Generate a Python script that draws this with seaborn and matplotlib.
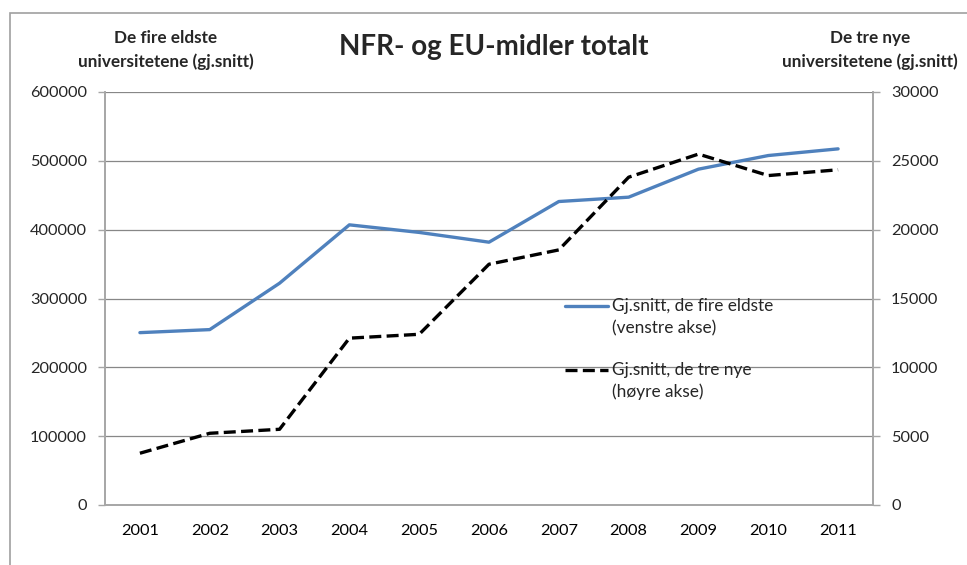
import numpy as np
import pandas as pd
import matplotlib
matplotlib.use("Agg")
import matplotlib.pyplot as plt
import seaborn as sns

# data
years = [2001, 2002, 2003, 2004, 2005, 2006, 2007, 2008, 2009, 2010, 2011]
fire_eldste = [250400, 254800, 322200, 407000, 396000, 381800, 440900, 447200, 487900, 507700, 517400]
tre_nye = [3760, 5210, 5500, 12120, 12400, 17490, 18530, 23810, 25490, 23930, 24350]

left_ticks = [0, 100000, 200000, 300000, 400000, 500000, 600000]
right_ticks = [0, 5000, 10000, 15000, 20000, 25000, 30000]

df = pd.DataFrame({"year": years, "eldste": fire_eldste, "nye": tre_nye})

sns.set_style("white")
plt.rcParams["font.family"] = ["Lato", "DejaVu Sans"]

grid_col = "#878787"
axis_col = "#a6a6a6"

fig = plt.figure(figsize=(9.67, 5.65), dpi=100)
ax = fig.add_axes([105 / 967, 60 / 565, 768 / 967, 413 / 565])
ax2 = ax.twinx()

sns.lineplot(data=df, x="year", y="eldste", ax=ax, color="#4F81BD", linewidth=2.4,
             label="Gj.snitt, de fire eldste\n(venstre akse)", legend=False)
sns.lineplot(data=df, x="year", y="nye", ax=ax2, color="black", linewidth=2.4,
             linestyle=(0, (3.6, 1.6)), label="Gj.snitt, de tre nye\n(høyre akse)", legend=False)

ax.set_xlim(years[0] - 0.5, years[-1] + 0.5)
ax.set_ylim(0, 600000)
ax2.set_ylim(0, 30000)
ax.set_yticks(left_ticks)
ax.set_yticklabels([str(v) for v in left_ticks])
ax2.set_yticks(right_ticks)
ax2.set_yticklabels([str(v) for v in right_ticks])

ax.set_xticks(years)
ax.set_xticklabels([str(y) for y in years])
ax.set_xticks(np.arange(years[0] - 0.5, years[-1] + 1.0, 1.0), minor=True)
ax.tick_params(axis="x", which="major", length=0, pad=14, labelsize=11.8, colors="black")
ax.tick_params(axis="x", which="minor", length=5, width=1, color=axis_col, direction="out")
ax.tick_params(axis="y", length=5, width=1, color=axis_col, pad=8, labelsize=11.8, direction="out")
ax2.tick_params(axis="y", length=5, width=1, color=axis_col, pad=8, labelsize=11.8, direction="out")

ax.set_xlabel("")
ax.set_ylabel("")
ax2.set_ylabel("")

ax.yaxis.grid(True, color=grid_col, linewidth=0.9)
ax.set_axisbelow(True)

for a in (ax, ax2):
    for side in ("left", "right", "bottom"):
        a.spines[side].set_visible(True)
        a.spines[side].set_color(axis_col)
        a.spines[side].set_linewidth(1.2)
    a.spines["top"].set_visible(False)

h1, l1 = ax.get_legend_handles_labels()
h2, l2 = ax2.get_legend_handles_labels()
leg = ax2.legend(h1 + h2, l1 + l2, loc="upper left", bbox_to_anchor=(0.59, 0.518),
                 frameon=False, fontsize=12.4, handlelength=2.5, handletextpad=0.25,
                 labelspacing=1.5, borderaxespad=0)
for t in leg.get_texts():
    t.set_linespacing(1.45)
# put the legend keys level with the first line of each label, like Excel does
for h in leg.legend_handles:
    y = np.asarray(h.get_ydata(), dtype=float)
    h.set_ydata(y + 8.5)

# headings
fig.text(494 / 967, 1 - 47 / 565, "NFR- og EU-midler totalt", ha="center", va="center",
         fontsize=20, fontweight="bold")
fig.text(166 / 967, 1 - 50 / 565, "De fire eldste\nuniversitetene (gj.snitt)", ha="center",
         va="center", fontsize=12.3, fontweight="bold", linespacing=1.55)
fig.text(870 / 967, 1 - 50 / 565, "De tre nye\nuniversitetene (gj.snitt)", ha="center",
         va="center", fontsize=12.3, fontweight="bold", linespacing=1.55)

# chart area border
fig.add_artist(plt.Rectangle((10 / 967, -0.05), 1.0, 1 - 13 / 565 + 0.05,
                             transform=fig.transFigure, fill=False,
                             edgecolor="#a0a0a0", linewidth=1.2))

fig.savefig("out.png", dpi=100)
